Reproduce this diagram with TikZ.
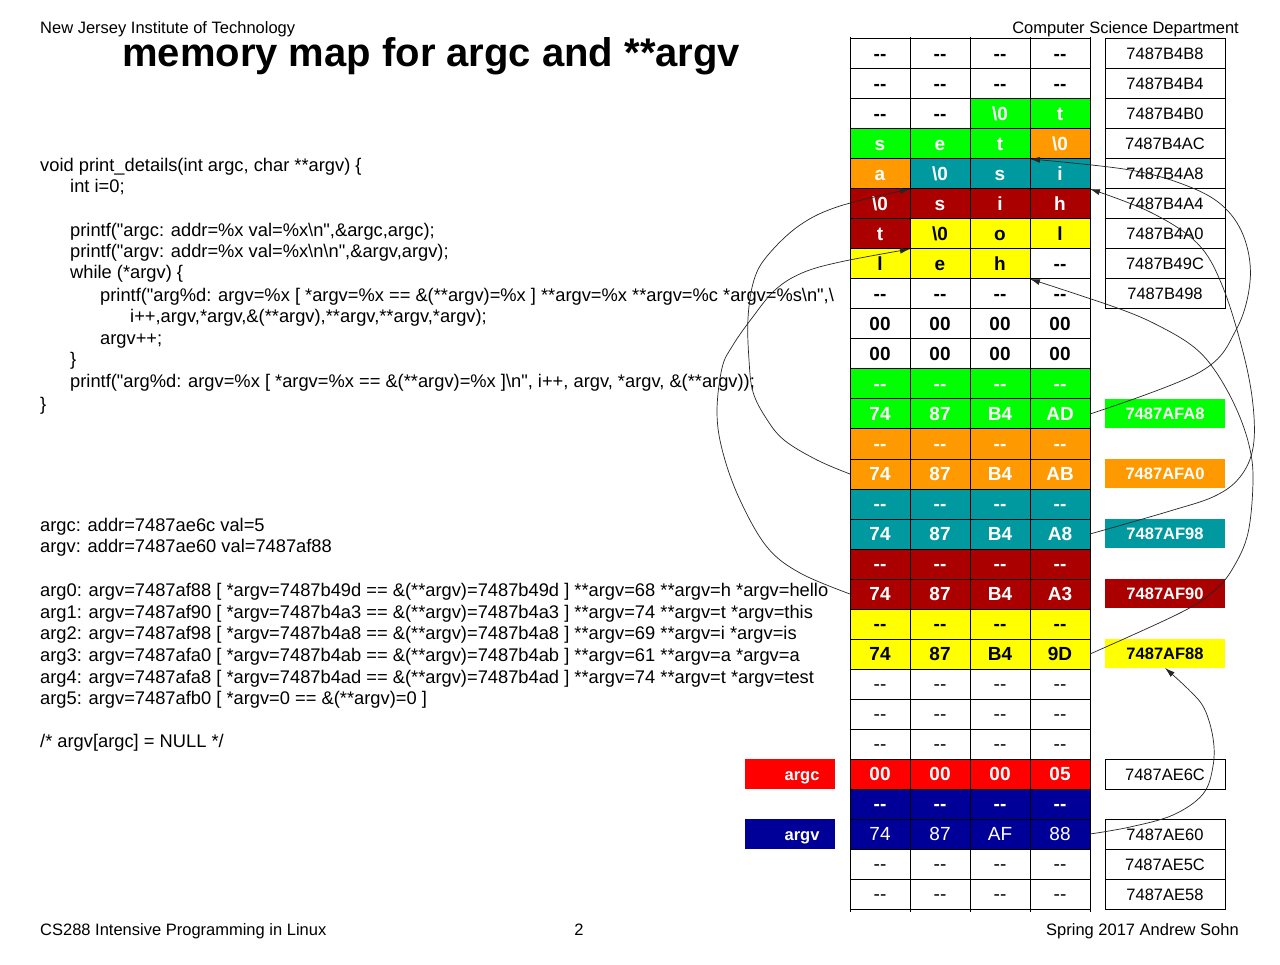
\documentclass[tikz,border=0pt]{standalone}
\usepackage{fontspec}
\newfontfamily\af{Liberation Sans}
\usetikzlibrary{arrows.meta}
\definecolor{memgreen}{RGB}{0,255,0}
\definecolor{memorange}{RGB}{255,153,0}
\definecolor{memteal}{RGB}{0,153,160}
\definecolor{memdred}{RGB}{170,0,0}
\definecolor{memyellow}{RGB}{255,255,0}
\definecolor{memred}{RGB}{255,0,0}
\definecolor{memblue}{RGB}{0,0,153}
\newcommand\zt{\textbackslash 0}
\newcommand\dd{-\kern0pt-}
\begin{document}
\begin{tikzpicture}[x=1pt,y=-1pt,
  hdr/.style={font=\af\fontsize{16.5}{18}\selectfont, inner sep=0},
  ttl/.style={font=\af\bfseries\fontsize{40}{44}\selectfont, inner sep=0, anchor=base west},
  code/.style={font=\af\fontsize{18.3}{21}\selectfont, inner sep=0, anchor=base west},
  cell/.style={draw=black, line width=1pt, minimum width=60pt, minimum height=30pt,
    inner sep=0, outer sep=0, font=\af\bfseries\fontsize{19}{19}\selectfont,
    text height=13.7pt, text depth=0pt},
  memW/.style={fill=white, text=black},
  memWl/.style={fill=white, text=black, font=\af\fontsize{19}{19}\selectfont},
  memG/.style={fill=memgreen, text=white},
  memO/.style={fill=memorange, text=white},
  memT/.style={fill=memteal, text=white},
  memR/.style={fill=memdred, text=white},
  memY/.style={fill=memyellow, text=black},
  memA/.style={fill=memred, text=white},
  memB/.style={fill=memblue, text=white},
  memBl/.style={fill=memblue, text=white, font=\af\fontsize{19}{19}\selectfont},
  addr/.style={draw=black, line width=1pt, minimum width=120pt, minimum height=30pt,
    inner sep=0, outer sep=0, font=\af\fontsize{16.5}{18}\selectfont,
    text height=12pt, text depth=0pt},
  ptr/.style={minimum width=120pt, minimum height=29pt, inner sep=0, outer sep=0,
    font=\af\bfseries\fontsize{16.5}{18}\selectfont, text=white,
    text height=12pt, text depth=0pt},
  var/.style={minimum width=90pt, minimum height=30pt, inner sep=0, outer sep=0,
    font=\af\bfseries\fontsize{16.5}{18}\selectfont, text=white,
    text height=12pt, text depth=0pt},
  conn/.style={draw=black!85, line width=0.7pt, -{Latex[length=10pt,width=6pt]}},
  gridline/.style={draw=black, line width=1pt}]

\fill[white] (0,0) rectangle (1280,965);
\useasboundingbox (0,0) rectangle (1280,965);

% page header and title
\node[hdr, anchor=base west] (inst) at (40,34) {New Jersey Institute of Technology};
\node[hdr, anchor=base east] (dept) at (1239,34) {Computer Science Department};
\node[ttl] (title) at (122,67) {memory map for argc and **argv};

% source listing
\node[code] (s1)  at (40,172)  {void print\_details(int argc, char **argv) \{};
\node[code] (s2)  at (70,193)  {int i=0;};
\node[code] (s3)  at (70,237)  {printf("argc: addr=\%x val=\%x\textbackslash n",\&argc,argc);};
\node[code] (s4)  at (70,258)  {printf("argv: addr=\%x val=\%x\textbackslash n\textbackslash n",\&argv,argv);};
\node[code] (s5)  at (70,279)  {while (*argv) \{};
\node[code] (s6)  at (100,302) {printf("arg\%d: argv=\%x [ *argv=\%x == \&(**argv)=\%x ] **argv=\%x **argv=\%c *argv=\%s\textbackslash n",\textbackslash};
\node[code] (s7)  at (130,323) {i++,argv,*argv,\&(**argv),**argv,**argv,*argv);};
\node[code] (s8)  at (100,345) {argv++;};
\node[code] (s9)  at (70,366)  {\}};
\node[code] (s10) at (70,388)  {printf("arg\%d: argv=\%x [ *argv=\%x == \&(**argv)=\%x ]\textbackslash n", i++, argv, *argv, \&(**argv));};
\node[code] (s11) at (40,410)  {\}};

% program output
\node[code] (o1) at (40,531) {argc: addr=7487ae6c val=5};
\node[code] (o2) at (40,552) {argv: addr=7487ae60 val=7487af88};
\node[code] (o3) at (40,596) {arg0: argv=7487af88 [ *argv=7487b49d == \&(**argv)=7487b49d ] **argv=68 **argv=h *argv=hello};
\node[code] (o4) at (40,618) {arg1: argv=7487af90 [ *argv=7487b4a3 == \&(**argv)=7487b4a3 ] **argv=74 **argv=t *argv=this};
\node[code] (o5) at (40,639) {arg2: argv=7487af98 [ *argv=7487b4a8 == \&(**argv)=7487b4a8 ] **argv=69 **argv=i *argv=is};
\node[code] (o6) at (40,661) {arg3: argv=7487afa0 [ *argv=7487b4ab == \&(**argv)=7487b4ab ] **argv=61 **argv=a *argv=a};
\node[code] (o7) at (40,683) {arg4: argv=7487afa8 [ *argv=7487b4ad == \&(**argv)=7487b4ad ] **argv=74 **argv=t *argv=test};
\node[code] (o8) at (40,704) {arg5: argv=7487afb0 [ *argv=0 == \&(**argv)=0 ]};
\node[code] (o9) at (40,747) {/* argv[argc] = NULL */};

% memory words, four bytes per row
\foreach \r/\sa/\sb/\sc/\sd/\ta/\tb/\tc/\td in {
  0/memW/memW/memW/memW/\dd/\dd/\dd/\dd,
  1/memW/memW/memW/memW/\dd/\dd/\dd/\dd,
  2/memW/memW/memG/memG/\dd/\dd/\zt/t,
  3/memG/memG/memG/memO/s/e/t/\zt,
  4/memO/memT/memT/memT/a/\zt/s/i,
  5/memR/memR/memR/memR/\zt/s/i/h,
  6/memR/memY/memY/memY/t/\zt/o/l,
  7/memY/memY/memY/memW/l/e/h/\dd,
  8/memW/memW/memW/memW/\dd/\dd/\dd/\dd,
  9/memW/memW/memW/memW/00/00/00/00,
  10/memW/memW/memW/memW/00/00/00/00,
  11/memG/memG/memG/memG/\dd/\dd/\dd/\dd,
  12/memG/memG/memG/memG/74/87/B4/AD,
  13/memO/memO/memO/memO/\dd/\dd/\dd/\dd,
  14/memO/memO/memO/memO/74/87/B4/AB,
  15/memT/memT/memT/memT/\dd/\dd/\dd/\dd,
  16/memT/memT/memT/memT/74/87/B4/A8,
  17/memR/memR/memR/memR/\dd/\dd/\dd/\dd,
  18/memR/memR/memR/memR/74/87/B4/A3,
  19/memY/memY/memY/memY/\dd/\dd/\dd/\dd,
  20/memY/memY/memY/memY/74/87/B4/9D,
  21/memWl/memWl/memWl/memWl/\dd/\dd/\dd/\dd,
  22/memWl/memWl/memWl/memWl/\dd/\dd/\dd/\dd,
  23/memWl/memWl/memWl/memWl/\dd/\dd/\dd/\dd,
  24/memA/memA/memA/memA/00/00/00/05,
  25/memB/memB/memB/memB/\dd/\dd/\dd/\dd,
  26/memBl/memBl/memBl/memBl/74/87/AF/88,
  27/memWl/memWl/memWl/memWl/\dd/\dd/\dd/\dd,
  28/memWl/memWl/memWl/memWl/\dd/\dd/\dd/\dd}
{
  \node[cell, style=\sa] (m\r-0) at (880,{54+30*\r})  {\ta};
  \node[cell, style=\sb] (m\r-1) at (940,{54+30*\r})  {\tb};
  \node[cell, style=\sc] (m\r-2) at (1000,{54+30*\r}) {\tc};
  \node[cell, style=\sd] (m\r-3) at (1060,{54+30*\r}) {\td};
}
\foreach \x in {850,910,970,1030,1090}
  \draw[gridline] (\x,37) -- (\x,912);

% word addresses
\foreach \r/\t in {0/7487B4B8,1/7487B4B4,2/7487B4B0,3/7487B4AC,4/7487B4A8,
                   5/7487B4A4,6/7487B4A0,7/7487B49C,8/7487B498,
                   24/7487AE6C,26/7487AE60,27/7487AE5C,28/7487AE58}
  \node[addr] (a\r) at (1165,{54+30*\r}) {\t};

% argv[] element addresses
\node[ptr, fill=memgreen]  (p12) at (1165,413.5) {7487AFA8};
\node[ptr, fill=memorange] (p14) at (1165,473.5) {7487AFA0};
\node[ptr, fill=memteal]   (p16) at (1165,533.5) {7487AF98};
\node[ptr, fill=memdred]   (p18) at (1165,593.5) {7487AF90};
\node[ptr, fill=memyellow, text=black] (p20) at (1165,653.5) {7487AF88};

% variable labels
\node[var, fill=memred]  (vargc) at (790,774) {\hspace{24pt}argc};
\node[var, fill=memblue] (vargv) at (790,834) {\hspace{24pt}argv};

% pointers from argv[] slots to the strings
\draw[conn] plot[smooth, tension=0.6] coordinates {(m12-3.east) (1200,372) (1236,330) (1250,282) (1245,240) (1225,208) (1190,187) (1130,170) (m4-3.north west)};
\draw[conn] plot[smooth, tension=0.6] coordinates {(m16-3.east) (1170,511) (1215,496) (1240,477) (1253,448) (1253,405) (1243,352) (1222,285) (1197,243) (1150,212) (m5-3.north east)};
\draw[conn] plot[smooth, tension=0.6] coordinates {(m20-3.east) (1180,613) (1214,591) (1233,568) (1248,533) (1253,480) (1249,445) (1236,408) (1216,372) (1195,348) (1163,328) (1120,309) (m7-2.south east)};
\draw[conn] plot[smooth, tension=0.6] coordinates {(m18-0.west) (800,573) (767,547) (740,500) (723,453) (717,413) (722,368) (733,345) (752,318) (775,290) (802,273) (840,262) (m7-1.north west)};
\draw[conn] plot[smooth, tension=0.6] coordinates {(m14-0.west) (817,460) (784,440) (766,418) (753,392) (749,360) (748,318) (754,280) (768,255) (800,225) (840,206) (m5-1.north west)};
% argv itself points at argv[0]
\draw[conn] plot[smooth, tension=0.6] coordinates {(m26-3.east) (1130,827) (1173,815) (1203,794) (1213,766) (1213,738) (1204,708) (1188,689) (p20.south)};

% page footer
\node[hdr, anchor=base west] (course) at (40,935) {CS288 Intensive Programming in Linux};
\node[hdr, anchor=base] (page) at (579,935) {2};
\node[hdr, anchor=base east] (term) at (1239,935) {Spring 2017 Andrew Sohn};
\end{tikzpicture}
\end{document}
